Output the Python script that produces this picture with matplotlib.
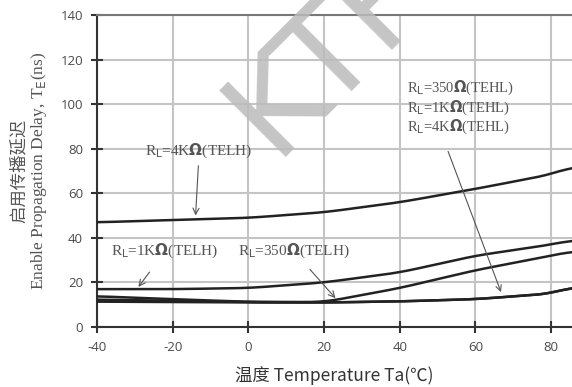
import matplotlib.pyplot as plt
import numpy as np

# temperature points (°C)
temp = [-40, -20, 0, 20, 40, 60, 80, 85.5]

# delay curves (ns)
rl4k_telh = [47, 48, 49, 51.5, 56, 62, 68.5, 72]
rl1k_telh = [17, 17, 17.5, 20, 24.5, 32, 37, 39]
rl350_telh = [13.8, 12.5, 11.3, 11.2, 17.5, 25.5, 32, 34]
tehl_a = [12.3, 11.8, 11.2, 11.0, 11.5, 12.5, 15, 18]
tehl_b = [11.4, 11.2, 11.0, 11.0, 11.5, 12.5, 15, 18]

plt.rcParams['axes.unicode_minus'] = False
serif = ['Liberation Serif', 'Noto Sans CJK SC']

fig = plt.figure(figsize=(5.72, 3.87), dpi=100)
ax = fig.add_axes([0.1696, 0.155, 0.8304, 0.806])

def smooth(x, y):
    xs = np.linspace(x[0], x[-1], 200)
    ys = np.interp(xs, x, y)
    k = np.ones(15) / 15
    ys_pad = np.concatenate([np.full(7, ys[0]), ys, np.full(7, ys[-1])])
    return xs, np.convolve(ys_pad, k, mode='valid')

for serie in [rl4k_telh, rl1k_telh, rl350_telh, tehl_a, tehl_b]:
    xs, ys = smooth(temp, serie)
    ax.plot(xs, ys, color='#222222', lw=1.8, zorder=3)

ax.set_xlim(-40, 85.5)
ax.set_ylim(0, 140)
ax.set_xticks([-40, -20, 0, 20, 40, 60, 80])
ax.set_yticks(range(0, 141, 20))
ax.grid(True, color='#c4c4c4', lw=1.5)
for s in ['left', 'bottom']:
    ax.spines[s].set_color('#333333')
    ax.spines[s].set_linewidth(1.5)
ax.spines['top'].set_color('#777777')
ax.spines['top'].set_linewidth(1.5)
ax.spines['right'].set_visible(False)
ax.tick_params(direction='inout', length=8, width=1.5, color='#333333',
               labelsize=9.5, labelcolor='#4a4a4a', pad=6)
for lb in ax.get_xticklabels() + ax.get_yticklabels():
    lb.set_family('Open Sans')

ax.set_ylabel('启用传播延迟\nEnable Propagation Delay, T$_\\mathrm{E}$(ns)',
              family=serif, fontsize=12.5, color='#555555', labelpad=8,
              linespacing=1.15)
ax.set_xlabel('温度 Temperature Ta(℃)', family=['Noto Sans CJK SC'],
              fontsize=12.5, color='#333333', labelpad=9)

akw = dict(family=serif, fontsize=11, color='#555555')
arr = dict(arrowstyle='->', color='#555555', lw=0.8)
ax.annotate('R$_\\mathrm{L}$=4K$\\mathbf{\\Omega}$(TELH)', xy=(-14, 48.8), xytext=(-13, 79),
            ha='center', va='center', arrowprops=arr, **akw)
ax.annotate('R$_\\mathrm{L}$=1K$\\mathbf{\\Omega}$(TELH)', xy=(-29.5, 17), xytext=(-22, 34),
            ha='center', va='center', arrowprops=dict(arr, shrinkA=8), **akw)
ax.annotate('R$_\\mathrm{L}$=350$\\mathbf{\\Omega}$(TELH)', xy=(23.5, 12), xytext=(12, 34),
            ha='center', va='center', arrowprops=dict(arr, shrinkA=6), **akw)
ax.text(42, 98.5, 'R$_\\mathrm{L}$=350$\\mathbf{\\Omega}$(TEHL)\nR$_\\mathrm{L}$=1K$\\mathbf{\\Omega}$(TEHL)\nR$_\\mathrm{L}$=4K$\\mathbf{\\Omega}$(TEHL)',
        ha='left', va='center', linespacing=1.1, family=serif, fontsize=10.5,
        color='#555555')
ax.annotate('', xy=(67, 14.5), xytext=(52.5, 80), arrowprops=arr)

# watermark
fig.text(0.573, 0.866, 'KTF', fontsize=92, color='#bbbbbb', alpha=0.85,
         rotation=45, ha='center', va='center', family='DejaVu Sans')

fig.savefig('out.png', dpi=100)
